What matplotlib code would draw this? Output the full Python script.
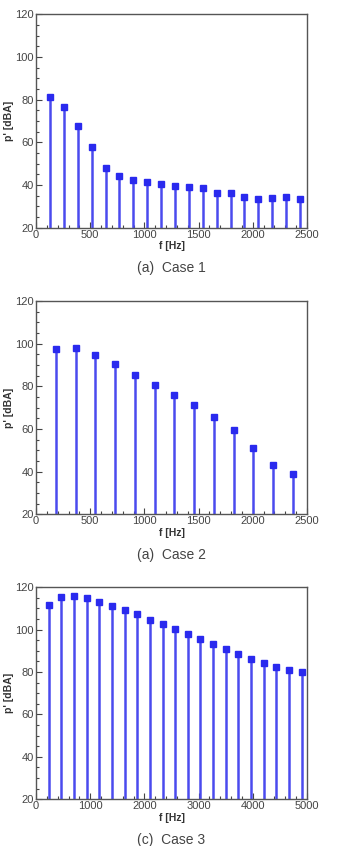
import matplotlib
matplotlib.use("Agg")
import matplotlib.pyplot as plt
from matplotlib.ticker import MultipleLocator

plt.rcParams["font.family"] = ["Liberation Sans", "DejaVu Sans"]

# Case 1
f_case1 = [128, 256, 385, 513, 641, 769, 897, 1026, 1154, 1282,
           1410, 1538, 1667, 1795, 1923, 2051, 2179, 2308, 2436]
p_case1 = [81.4, 76.7, 67.8, 57.8, 48.1, 44.2, 42.2, 41.4, 40.3, 39.7,
           39.1, 38.6, 36.4, 36.1, 34.5, 33.4, 33.8, 34.4, 33.6]

# Case 2
f_case2 = [182, 365, 547, 730, 912, 1094, 1277, 1459, 1642, 1824,
           2006, 2189, 2371]
p_case2 = [97.7, 98.1, 94.8, 90.3, 85.6, 80.8, 75.9, 71.1, 65.8, 59.5,
           51.3, 43.0, 38.9]

# Case 3
f_case3 = [233, 467, 700, 934, 1167, 1400, 1634, 1867, 2101, 2334,
           2567, 2801, 3034, 3268, 3501, 3734, 3968, 4201, 4435, 4668, 4902]
p_case3 = [111.7, 115.6, 115.8, 114.8, 113.2, 111.4, 109.2, 107.3, 104.7,
           102.7, 100.2, 98.0, 95.6, 93.1, 90.8, 88.6, 86.4, 84.2, 82.4,
           81.2, 80.1]

panels = [
    (f_case1, p_case1, 2500, 500, 100, "(a)  Case 1", [0.107, 0.731, 0.804, 0.252]),
    (f_case2, p_case2, 2500, 500, 100, "(a)  Case 2", [0.107, 0.392, 0.804, 0.252]),
    (f_case3, p_case3, 5000, 1000, 200, "(c)  Case 3", [0.107, 0.0552, 0.804, 0.2506]),
]

fig = plt.figure(figsize=(3.37, 8.46), dpi=100)

for f, p, xmax, xmaj, xmin_, caption, rect in panels:
    ax = fig.add_axes(rect)
    ax.vlines(f, 20, p, color="#4a4aee", linewidth=1.8, zorder=2)
    ax.plot(f, p, "s", color="#2a2aee", markersize=4.3, zorder=3)
    ax.set_xlim(0, xmax)
    ax.set_ylim(20, 120)
    ax.xaxis.set_major_locator(MultipleLocator(xmaj))
    ax.xaxis.set_minor_locator(MultipleLocator(xmin_))
    ax.yaxis.set_major_locator(MultipleLocator(20))
    ax.yaxis.set_minor_locator(MultipleLocator(5))
    ax.tick_params(which="both", direction="in", top=False, right=False,
                   colors="#444444", labelsize=8, width=0.8, pad=1.5)
    ax.tick_params(which="major", length=4)
    ax.tick_params(which="minor", length=2)
    for s in ax.spines.values():
        s.set_color("#555555")
        s.set_linewidth(1.0)
    ax.set_xlabel("f [Hz]", fontsize=7.5, fontweight="bold", color="#333333", labelpad=1)
    ax.set_ylabel("p' [dBA]", fontsize=7.5, fontweight="bold", color="#333333", labelpad=1)
    ax.text(0.5, -0.19, caption, transform=ax.transAxes, ha="center", va="center",
            fontsize=10, color="#444444")

fig.savefig("out.png", dpi=100)
